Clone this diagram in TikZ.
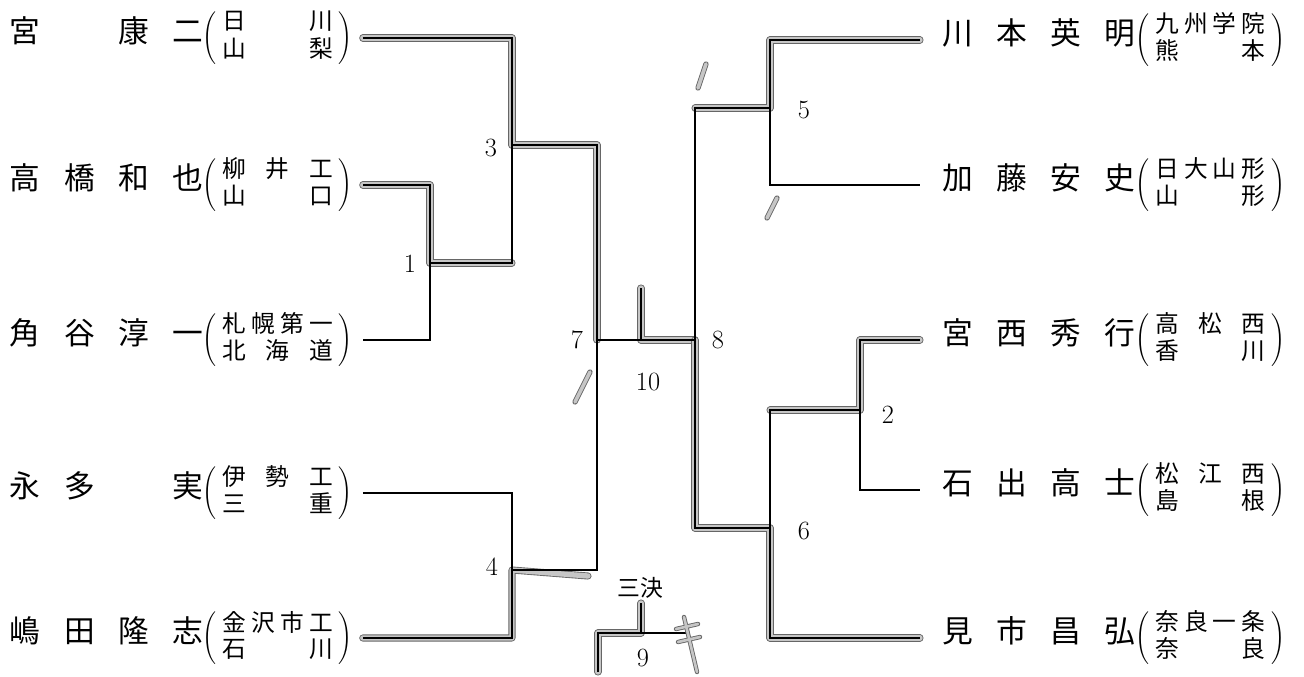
\documentclass[tikz,border=0pt]{standalone}
\usepackage{fontspec}
\newfontfamily\jp{Noto Sans CJK JP}
\newcommand{\school}[2]{$\Biggl(\vcenter{\hbox{\hspace{0.12cm}\fontsize{13.5}{14.5}\selectfont\jp\begin{tabular}{@{}c@{}}\makebox[2.2cm]{#1}\\\makebox[2.2cm]{#2}\end{tabular}\hspace{0.12cm}}}\Biggr)$}
\newcommand{\player}[3]{\makebox[3.86cm]{\fontsize{17.5}{20}\selectfont\jp #1}\school{#2}{#3}}

\begin{document}
\begin{tikzpicture}[x=0.02cm, y=-0.02cm,
        line/.style={line width=0.7pt},
        hl/.style={draw=black!60, line width=0.5pt, double=gray!45, double distance=3pt, line cap=round, line join=round},
        lentry/.style={anchor=west, inner sep=0pt, outer xsep=0.2cm},
        rentry/.style={anchor=west, inner sep=0pt, outer xsep=0.45cm},
        num/.style={font=\fontsize{15}{15}\selectfont}]
        \useasboundingbox (0,0) rectangle (1304,676);

        % Draw players
        \node[lentry] (l1) at (0,38) {\player{宮\hfill\phantom{康}\hfill 康\hfill 二}{日\hfill 川}{山\hfill 梨}};
        \node[lentry] (l2) at (0,185) {\player{高\hfill 橋\hfill 和\hfill 也}{柳\hfill 井\hfill 工}{山\hfill 口}};
        \node[lentry] (l3) at (0,340) {\player{角\hfill 谷\hfill 淳\hfill 一}{札\hfill 幌\hfill 第\hfill 一}{北\hfill 海\hfill 道}};
        \node[lentry] (l4) at (0,493) {\player{永\hfill 多\hfill\phantom{多}\hfill 実}{伊\hfill 勢\hfill 工}{三\hfill 重}};
        \node[lentry] (l5) at (0,638) {\player{嶋\hfill 田\hfill 隆\hfill 志}{金\hfill 沢\hfill 市\hfill 工}{石\hfill 川}};
        \node[rentry] (r1) at (920,40) {\player{川\hfill 本\hfill 英\hfill 明}{九\hfill 州\hfill 学\hfill 院}{熊\hfill 本}};
        \node[rentry] (r2) at (920,185) {\player{加\hfill 藤\hfill 安\hfill 史}{日\hfill 大\hfill 山\hfill 形}{山\hfill 形}};
        \node[rentry] (r3) at (920,340) {\player{宮\hfill 西\hfill 秀\hfill 行}{高\hfill 松\hfill 西}{香\hfill 川}};
        \node[rentry] (r4) at (920,490) {\player{石\hfill 出\hfill 高\hfill 士}{松\hfill 江\hfill 西}{島\hfill 根}};
        \node[rentry] (r5) at (920,638) {\player{見\hfill 市\hfill 昌\hfill 弘}{奈\hfill 良\hfill 一\hfill 条}{奈\hfill 良}};

        % Match points
        \coordinate (m1) at (430,263);
        \coordinate (m3) at (512,145);
        \coordinate (m4) at (512,570);
        \coordinate (m7) at (597,340);
        \coordinate (m5) at (770,108);
        \coordinate (m2) at (860,410);
        \coordinate (m6) at (770,528);
        \coordinate (m8) at (695,340);
        \coordinate (m10) at (641,340);
        \coordinate (c10) at (641,288);
        \coordinate (m9) at (641,633);
        \coordinate (c9) at (641,603);
        \coordinate (s9l) at (598,672);
        \coordinate (s9r) at (690,633);

        % Draw winner marks
        \draw[hl] (l1.east) -| (m3) -| (m7);
        \draw[hl] (l2.east) -| (m1) -- (m1 -| m3);
        \draw[hl] (l5.east) -| (m4) -- ++(76,6);
        \draw[hl] (m8) -- (m10) -- (c10);
        \draw[hl] (s9l) |- (m9) -- (c9);
        \draw[hl] (r1.west) -| (m5) -- (m5 -| m8);
        \draw[hl] (r3.west) -| (m2) -- (m2 -| m6);
        \draw[hl] (r5.west) -| (m6) -| (m8);

        % Draw bracket
        \draw[line] (l2.east) -| (m1) |- (l3.east);
        \draw[line] (l1.east) -| (m3) |- (m1);
        \draw[line] (l4.east) -| (m4) |- (l5.east);
        \draw[line] (m3) -| (m7) |- (m4);
        \draw[line] (r1.west) -| (m5) |- (r2.west);
        \draw[line] (r3.west) -| (m2) |- (r4.west);
        \draw[line] (m2) -| (m6) |- (r5.west);
        \draw[line] (m5) -| (m8) |- (m6);
        \draw[line] (m7) -- (m8);
        \draw[line] (m10) -- (c10);
        \draw[line] (s9l) |- (s9r);
        \draw[line] (m9) -- (c9);

        % Draw match numbers
        \node[num] (n1) at (410,264) {1};
        \node[num] (n2) at (888,415) {2};
        \node[num] (n3) at (491,148) {3};
        \node[num] (n4) at (492,567) {4};
        \node[num] (n5) at (804,110) {5};
        \node[num] (n6) at (804,531) {6};
        \node[num] (n7) at (577,340) {7};
        \node[num] (n8) at (718,340) {8};
        \node[num] (n9) at (643,658) {9};
        \node[num] (n10) at (648,382) {10};
        \node[font=\fontsize{13}{13}\selectfont\jp] (t9) at (640,588) {三決};

        % Draw pencil marks
        \draw[hl, double distance=2pt] (706,64) -- (698,88);
        \draw[hl, double distance=2pt] (777,198) -- (767,218);
        \draw[hl, double distance=2pt] (590,372) -- (575,402);
        \draw[hl, double distance=1.5pt] (684,617) -- (697,672) (676,629) -- (698,624) (678,642) -- (700,637);

\end{tikzpicture}
\end{document}
